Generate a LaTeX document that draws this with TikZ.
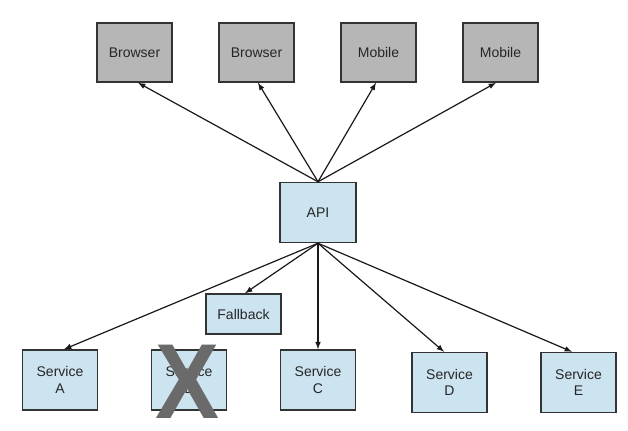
\documentclass[tikz,border=0pt]{standalone}
\usepackage{fontspec}
\setmainfont{Liberation Sans}
\usetikzlibrary{arrows}
\usetikzlibrary{calc}
\definecolor{clientgrey}{HTML}{B6B6B6}
\definecolor{svcblue}{HTML}{CCE3F0}
\definecolor{crossgrey}{HTML}{6A6A6A}

\begin{document}
\begin{tikzpicture}[x=0.75pt, y=-0.75pt,
		box/.style={draw=black!80, line width=1.1pt, inner sep=0pt, align=center,
			font=\fontsize{10.5}{12.6}\selectfont, text=black!85},
		client/.style={box, fill=clientgrey, minimum width=56.25pt, minimum height=44.25pt},
		svc/.style={box, fill=svcblue, minimum width=56.25pt, minimum height=45pt},
		call/.style={-latex, line width=0.9pt, black!90}]
			\useasboundingbox [fill=white] (0,0) rectangle (628,431);
			% clients
			\node [client] (b1) at (134.5,52.5) {Browser};
			\node [client] (b2) at (256.5,52.5) {Browser};
			\node [client] (m1) at (378.5,52.5) {Mobile};
			\node [client] (m2) at (500.5,52.5) {Mobile};
			% gateway and services
			\node [svc, minimum width=57pt] (api) at (318,212.5) {API};
			\node [svc, minimum height=30pt] (fb) at (243.5,314) {Fallback};
			\node [svc] (sa) at (60,380) {Service\\A};
			\node [svc] (sb) at (189,380) {Service\\B};
			\node [svc] (sc) at (318,380) {Service\\C};
			\node [svc] (sd) at (449.5,382.5) {Service\\D};
			\node [svc] (se) at (578.5,382.5) {Service\\E};
			\node [text=crossgrey, inner sep=0pt, xscale=0.9, font=\fontsize{80}{80}\bfseries] (cross) at (188,382) {X};
			% calls
			\draw [call] (api.north) -- ($(b1.south)+(3.5,0)$);
			\draw [call] (api.north) -- ($(b2.south)+(1.5,0)$);
			\draw [call] (api.north) -- ($(m1.south)+(-2.5,0)$);
			\draw [call] (api.north) -- ($(m2.south)+(-4.5,0)$);
			\draw [call] (api.south) -- ($(sa.north)+(4,0)$);
			\draw [call] (api.south) -- ($(fb.north)+(1.5,0)$);
			\draw [call] (api.south) -- (sc.north);
			\draw [call] (api.south) -- ($(sd.north)+(-5.5,0)$);
			\draw [call] (api.south) -- ($(se.north)+(-6.5,0)$);
		\end{tikzpicture}
\end{document}
